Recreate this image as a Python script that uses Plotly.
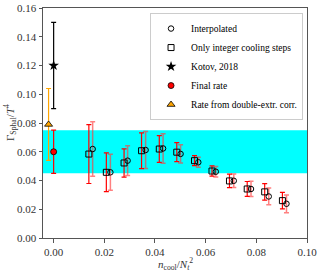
import plotly.graph_objects as go

# Only integer cooling steps (squares)
int_x = [0.0139, 0.0208, 0.0278, 0.0347, 0.0417, 0.0486, 0.0556, 0.0625, 0.0694, 0.0764, 0.0833, 0.0903]
int_y = [0.0584, 0.0457, 0.0522, 0.0607, 0.0619, 0.0597, 0.0538, 0.0466, 0.0397, 0.0341, 0.0321, 0.0260]
int_err = [0.0205, 0.0135, 0.0098, 0.0124, 0.0093, 0.0066, 0.0035, 0.0036, 0.0047, 0.0052, 0.0057, 0.0058]

# Interpolated (circles)
itp_x = [0.0154, 0.0224, 0.0292, 0.0363, 0.0432, 0.0501, 0.0571, 0.0640, 0.0711, 0.0779, 0.0849, 0.0919]
itp_y = [0.0619, 0.0457, 0.0538, 0.0612, 0.0623, 0.0585, 0.0527, 0.0461, 0.0398, 0.0341, 0.0289, 0.0238]
itp_err = [0.0190, 0.0125, 0.0103, 0.0129, 0.0103, 0.0064, 0.0034, 0.0037, 0.0047, 0.0053, 0.0058, 0.0062]

kotov_x, kotov_y, kotov_err = [0.0], [0.12], [0.03]
final_x, final_y, final_err = [0.0], [0.06], [0.015]
dex_x, dex_y, dex_err = [-0.002], [0.079], [0.025]
band_lo, band_hi = 0.045, 0.075

x_ticks = [0.0, 0.02, 0.04, 0.06, 0.08, 0.10]
y_ticks = [0.0, 0.02, 0.04, 0.06, 0.08, 0.10, 0.12, 0.14, 0.16]

font = "Liberation Serif"
fig = go.Figure()

fig.add_shape(type="rect", xref="paper", x0=0, x1=1, yref="y", y0=band_lo, y1=band_hi,
              fillcolor="#00FFFF", line_width=0, layer="below")

fig.add_trace(go.Scatter(
    x=itp_x, y=itp_y, mode="markers", name="Interpolated",
    marker=dict(symbol="circle-open", size=5.5, color="black", line=dict(width=1, color="black")),
    error_y=dict(type="data", array=itp_err, color="rgba(255,60,60,0.65)", thickness=1.5, width=2.5)))
fig.add_trace(go.Scatter(
    x=int_x, y=int_y, mode="markers", name="Only integer cooling steps",
    marker=dict(symbol="square-open", size=6, color="black", line=dict(width=1, color="black")),
    error_y=dict(type="data", array=int_err, color="red", thickness=1.2, width=2.5)))
fig.add_trace(go.Scatter(
    x=kotov_x, y=kotov_y, mode="markers", name="Kotov, 2018",
    marker=dict(symbol="star", size=8, color="black"),
    error_y=dict(type="data", array=kotov_err, color="black", thickness=1.2, width=2.5)))
fig.add_trace(go.Scatter(
    x=final_x, y=final_y, mode="markers", name="Final rate",
    marker=dict(symbol="circle", size=6, color="red", line=dict(width=0.8, color="black")),
    error_y=dict(type="data", array=final_err, color="red", thickness=1.2, width=2.5)))
fig.add_trace(go.Scatter(
    x=dex_x, y=dex_y, mode="markers", name="Rate from double-extr. corr.",
    marker=dict(symbol="triangle-up", size=7, color="orange", line=dict(width=0.8, color="black")),
    error_y=dict(type="data", array=dex_err, color="orange", thickness=1.2, width=2.5)))

axis_common = dict(showline=True, linecolor="#555", linewidth=1, mirror=True, ticks="outside",
                   ticklen=3.5, tickcolor="#555", showgrid=False, zeroline=False, automargin=False,
                   tickfont=dict(family=font, size=11, color="#333"))
fig.update_layout(
    width=321, height=273,
    margin=dict(l=43, r=14, t=8, b=35, autoexpand=False),
    paper_bgcolor="white", plot_bgcolor="white",
    font=dict(family=font, color="black"),
    xaxis=dict(range=[-0.0042, 0.10], tickvals=x_ticks, ticktext=[f"{v:.2f}" for v in x_ticks],
               **axis_common),
    yaxis=dict(range=[0, 0.16], tickvals=y_ticks, ticktext=[f"{v:.2f}" for v in y_ticks],
               **axis_common),
    legend=dict(x=0.985, y=0.978, xanchor="right", yanchor="top", bgcolor="white",
                bordercolor="#ccc", borderwidth=1, font=dict(family=font, size=9.5),
                itemwidth=30, tracegroupgap=0),
    showlegend=True,
    annotations=[
        dict(text="<i>n</i><sub>cool</sub>/<i>N<sub>t</sub></i><sup>2</sup>", xref="paper", yref="paper",
             x=0.5, y=-0.112, xanchor="center", yanchor="middle", showarrow=False,
             font=dict(family=font, size=11, color="#333")),
        dict(text="Γ<sub>Sphal</sub>/<i>T</i><sup>4</sup>", xref="paper", yref="paper",
             x=-0.125, y=0.5, xanchor="center", yanchor="middle", showarrow=False, textangle=-90,
             font=dict(family=font, size=11, color="#333")),
    ],
)

fig.write_html("out.html", config={"displayModeBar": False},
               post_script="document.body.style.margin='0';document.body.style.overflow='hidden';")
